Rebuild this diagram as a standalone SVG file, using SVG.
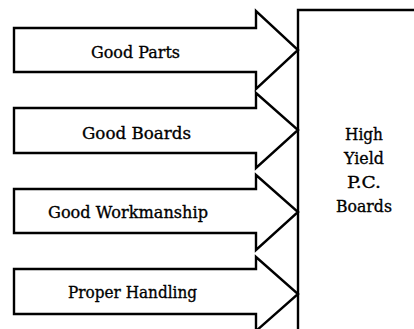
<svg xmlns="http://www.w3.org/2000/svg" width="414" height="329" viewBox="0 0 414 329">
<style>
.arrow{fill:#fff;stroke:#000;stroke-width:2.4;stroke-linejoin:miter}
.box{fill:none;stroke:#000;stroke-width:2.4}
.t{font-family:"DejaVu Serif","Liberation Serif",serif;font-size:17px;fill:#000;stroke:#000;stroke-width:0.35}
</style>
<rect width="414" height="329" fill="#fff"/>
<g id="target">
<path class="box" d="M298,330 V10 H415"/>
<text class="t" x="364" y="140" text-anchor="middle" textLength="38" lengthAdjust="spacingAndGlyphs">High</text>
<text class="t" x="364" y="164" text-anchor="middle" textLength="40" lengthAdjust="spacingAndGlyphs">Yield</text>
<text class="t" x="364" y="188" text-anchor="middle" textLength="34" lengthAdjust="spacingAndGlyphs">P.C.</text>
<text class="t" x="364" y="212" text-anchor="middle" textLength="56" lengthAdjust="spacingAndGlyphs">Boards</text>
</g>
<g id="connectors">
<g id="arrow1">
<polygon class="arrow" points="14,28 256,28 256,11 298,50 256,89 256,72 14,72"/>
<text class="t" x="91" y="58" textLength="89" lengthAdjust="spacingAndGlyphs">Good Parts</text>
</g>
<g id="arrow2">
<polygon class="arrow" points="14,108 256,108 256,93 298,130 256,168 256,153 14,153"/>
<text class="t" x="82" y="139" textLength="109" lengthAdjust="spacingAndGlyphs">Good Boards</text>
</g>
<g id="arrow3">
<polygon class="arrow" points="14,189 256,189 256,175 298,212 256,250 256,233 14,233"/>
<text class="t" x="48" y="218" textLength="160" lengthAdjust="spacingAndGlyphs">Good Workmanship</text>
</g>
<g id="arrow4">
<polygon class="arrow" points="14,269 256,269 256,257 298,294 256,331 256,314 14,314"/>
<text class="t" x="68" y="298" textLength="129" lengthAdjust="spacingAndGlyphs">Proper Handling</text>
</g>
</g>
</svg>
